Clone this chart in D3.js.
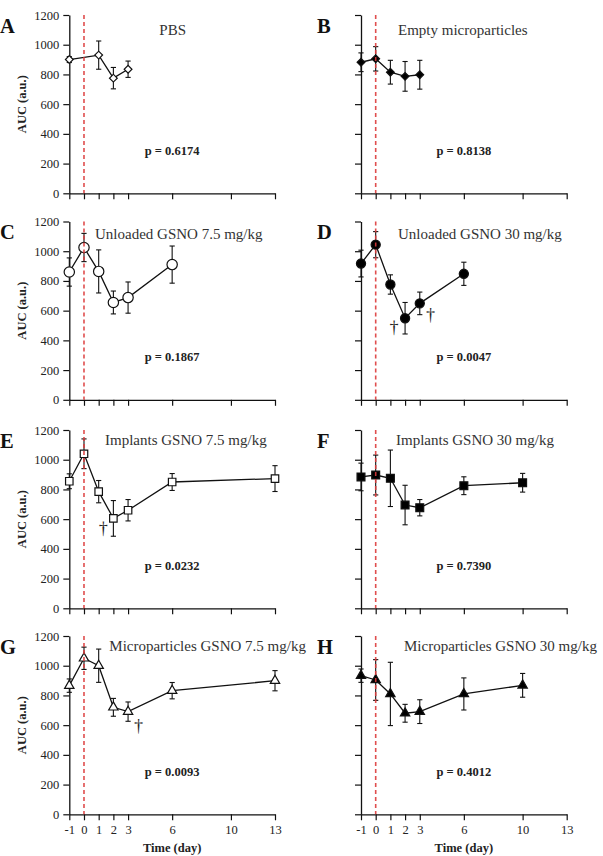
<!DOCTYPE html>
<html>
<head>
<meta charset="utf-8">
<script src="https://cdn.jsdelivr.net/npm/d3@7"></script>
<style>
  body { margin: 0; background: #fff; }
  svg { display: block; font-family: "Liberation Serif", "DejaVu Serif", serif; }
</style>
</head>
<body>
<div id="chart"></div>
<script>
// Axis ticks
const dayTicks = [-1, 0, 1, 2, 3, 6, 10, 13];
const aucTicks = [0, 200, 400, 600, 800, 1000, 1200];

// Panel descriptions
const panelLetters = ["A", "B", "C", "D", "E", "F", "G", "H"];
const panelTitles = [
  "PBS",
  "Empty microparticles",
  "Unloaded GSNO 7.5 mg/kg",
  "Unloaded GSNO 30 mg/kg",
  "Implants GSNO 7.5 mg/kg",
  "Implants GSNO 30 mg/kg",
  "Microparticles GSNO 7.5 mg/kg",
  "Microparticles GSNO 30 mg/kg",
];
const pValues = ["0.6174", "0.8138", "0.1867", "0.0047", "0.0232", "0.7390", "0.0093", "0.4012"];
const markerShapes = ["diamond", "diamond", "circle", "circle", "square", "square", "triangle", "triangle"];
const markerFilled = [false, true, false, true, false, true, false, true];

// Series: day, mean AUC, error
const pbsDays = [-1, 1, 2, 3];
const pbsAuc = [900, 930, 775, 835];
const pbsErr = [20, 95, 72, 55];

const emptyDays = [-1, 0, 1, 2, 3];
const emptyAuc = [882, 905, 815, 787, 798];
const emptyErr = [63, 82, 80, 100, 97];

const unl75Days = [-1, 0, 1, 2, 3, 6];
const unl75Auc = [860, 1025, 864, 655, 688, 910];
const unl75Err = [95, 95, 145, 77, 105, 125];

const unl30Days = [-1, 0, 1, 2, 3, 6];
const unl30Auc = [917, 1044, 776, 549, 649, 848];
const unl30Err = [90, 88, 65, 106, 76, 78];

const imp75Days = [-1, 0, 1, 2, 3, 6, 13];
const imp75Auc = [855, 1040, 785, 605, 660, 850, 873];
const imp75Err = [50, 100, 75, 120, 72, 57, 87];

const imp30Days = [-1, 0, 1, 2, 3, 6, 10];
const imp30Auc = [884, 897, 875, 695, 677, 825, 845];
const imp30Err = [93, 134, 190, 133, 55, 60, 63];

const mic75Days = [-1, 0, 1, 2, 3, 6, 13];
const mic75Auc = [866, 1050, 1000, 720, 691, 832, 899];
const mic75Err = [45, 75, 112, 60, 65, 55, 68];

const mic30Days = [-1, 0, 1, 2, 3, 6, 10];
const mic30Auc = [933, 904, 810, 680, 691, 810, 868];
const mic30Err = [45, 137, 213, 60, 80, 108, 80];

// Significance daggers (panel index, day, AUC)
const daggerPanels = [3, 3, 4, 6];
const daggerDays = [1.25, 3.74, 1.31, 3.72];
const daggerAuc = [485, 570, 537, 594];

const seriesDays = [pbsDays, emptyDays, unl75Days, unl30Days, imp75Days, imp30Days, mic75Days, mic30Days];
const seriesAuc = [pbsAuc, emptyAuc, unl75Auc, unl30Auc, imp75Auc, imp30Auc, mic75Auc, mic30Auc];
const seriesErr = [pbsErr, emptyErr, unl75Err, unl30Err, imp75Err, imp30Err, mic75Err, mic30Err];

// Layout
const width = 603;
const height = 856;
const colLeft = [69.3, 361];
const plotWidth = 205.7;
const rowTop = [15, 221.5, 430, 636];
const plotHeight = 178.3;
const titleOffsetX = [90, 37, 25.7, 37, 35.7, 35, 40, 43];
const titleOffsetY = [20, 17, 14.5, 14.5];

const svg = d3
  .select("#chart")
  .append("svg")
  .attr("width", width)
  .attr("height", height)
  .attr("viewBox", `0 0 ${width} ${height}`);

function markerPath(shape, filled) {
  if (shape === "circle") return d3.symbol(d3.symbolCircle, filled ? 66 : 84)();
  if (shape === "square") return d3.symbol(d3.symbolSquare, filled ? 62 : 56)();
  if (shape === "triangle") return d3.symbol(d3.symbolTriangle, 38)();
  return d3.symbol(d3.symbolSquare, 30)();
}

panelLetters.forEach((letter, i) => {
  const col = i % 2;
  const row = Math.floor(i / 2);
  const left = colLeft[col];
  const top = rowTop[row];

  const x = d3.scaleLinear().domain([-1, 13]).range([left, left + plotWidth]);
  const y = d3.scaleLinear().domain([0, 1200]).range([top + plotHeight, top]);

  const g = svg.append("g").attr("class", "panel");

  // Axes
  const yAxis = d3
    .axisLeft(y)
    .tickValues(aucTicks)
    .tickSize(6)
    .tickSizeOuter(0)
    .tickPadding(4)
    .tickFormat((d) => (col === 0 ? String(d) : ""));
  const xAxis = d3
    .axisBottom(x)
    .tickValues(dayTicks)
    .tickSize(6)
    .tickSizeOuter(0)
    .tickPadding(5)
    .tickFormat((d) => (row === 3 ? String(d) : ""));

  const ya = g.append("g").attr("transform", `translate(${left},0)`).call(yAxis);
  const xa = g.append("g").attr("transform", `translate(0,${top + plotHeight})`).call(xAxis);

  [ya, xa].forEach((a) => {
    a.attr("font-family", null);
    a.select(".domain").attr("stroke", "#111").attr("stroke-width", 1.3);
    a.selectAll(".tick line").attr("stroke", "#111").attr("stroke-width", 1.2);
    a.selectAll(".tick text")
      .attr("font-size", 12.5)
      .attr("fill", "#222");
  });

  const days = seriesDays[i];
  const auc = seriesAuc[i];
  const err = seriesErr[i];
  const points = days.map((d, k) => ({ day: d, auc: auc[k], err: err[k] }));

  // Error bars
  const eb = g.append("g").attr("stroke", "#111").attr("stroke-width", 1.1).attr("fill", "none");
  points.forEach((p) => {
    const cx = x(p.day);
    const y1 = y(p.auc + p.err);
    const y2 = y(p.auc - p.err);
    eb.append("line").attr("x1", cx).attr("x2", cx).attr("y1", y1).attr("y2", y2);
    eb.append("line").attr("x1", cx - 2.6).attr("x2", cx + 2.6).attr("y1", y1).attr("y2", y1);
    eb.append("line").attr("x1", cx - 2.6).attr("x2", cx + 2.6).attr("y1", y2).attr("y2", y2);
  });

  // Connecting line
  const line = d3
    .line()
    .x((d) => x(d.day))
    .y((d) => y(d.auc));
  g.append("path")
    .datum(points)
    .attr("d", line)
    .attr("fill", "none")
    .attr("stroke", "#111")
    .attr("stroke-width", 1.3);

  // Markers
  const shape = markerShapes[i];
  const filled = markerFilled[i];
  g.selectAll(".marker")
    .data(points)
    .join("path")
    .attr("class", "marker")
    .attr("d", markerPath(shape, filled))
    .attr("transform", (d) =>
      `translate(${x(d.day)},${y(d.auc)})` + (shape === "diamond" ? " rotate(45)" : "")
    )
    .attr("fill", filled ? "#000" : "#fff")
    .attr("stroke", "#111")
    .attr("stroke-width", 1.2);

  // Injection day (dashed red)
  g.append("line")
    .attr("x1", x(0))
    .attr("x2", x(0))
    .attr("y1", y(1200))
    .attr("y2", y(0))
    .attr("stroke", "#dd3b3b")
    .attr("stroke-width", 1.6)
    .attr("stroke-dasharray", "4,3")
    .attr("opacity", 0.9);

  // Letter
  g.append("text")
    .attr("x", col === 0 ? 0 : 317)
    .attr("y", top + 17.8)
    .attr("font-size", 20.5)
    .attr("font-weight", "bold")
    .attr("fill", "#111")
    .text(letter);

  // Title
  g.append("text")
    .attr("x", left + titleOffsetX[i])
    .attr("y", top + titleOffsetY[row])
    .attr("font-size", 15)
    .attr("fill", "#333")
    .text(panelTitles[i]);

  // p value
  g.append("text")
    .attr("x", x(6))
    .attr("y", y(260))
    .attr("text-anchor", "middle")
    .attr("font-size", 12.5)
    .attr("font-weight", "bold")
    .attr("fill", "#222")
    .text(`p = ${pValues[i]}`);

  // Y label
  if (col === 0) {
    g.append("text")
      .attr("transform", `translate(26,${top + plotHeight / 2}) rotate(-90)`)
      .attr("text-anchor", "middle")
      .attr("font-size", 12.5)
      .attr("font-weight", "bold")
      .attr("fill", "#222")
      .text("AUC (a.u.)");
  }

  // X label
  if (row === 3) {
    g.append("text")
      .attr("x", left + plotWidth / 2)
      .attr("y", 851.5)
      .attr("text-anchor", "middle")
      .attr("font-size", 12.5)
      .attr("font-weight", "bold")
      .attr("fill", "#222")
      .text("Time (day)");
  }

  // Daggers
  daggerPanels.forEach((pi, k) => {
    if (pi !== i) return;
    g.append("text")
      .attr("transform", `translate(${x(daggerDays[k])},${y(daggerAuc[k])}) rotate(0.5)`)
      .attr("dy", "0.3em")
      .attr("text-anchor", "middle")
      .attr("font-size", 18)
      .attr("fill", "#222")
      .attr("opacity", 0.98)
      .text("\u2020");
  });
});
</script>
</body>
</html>
